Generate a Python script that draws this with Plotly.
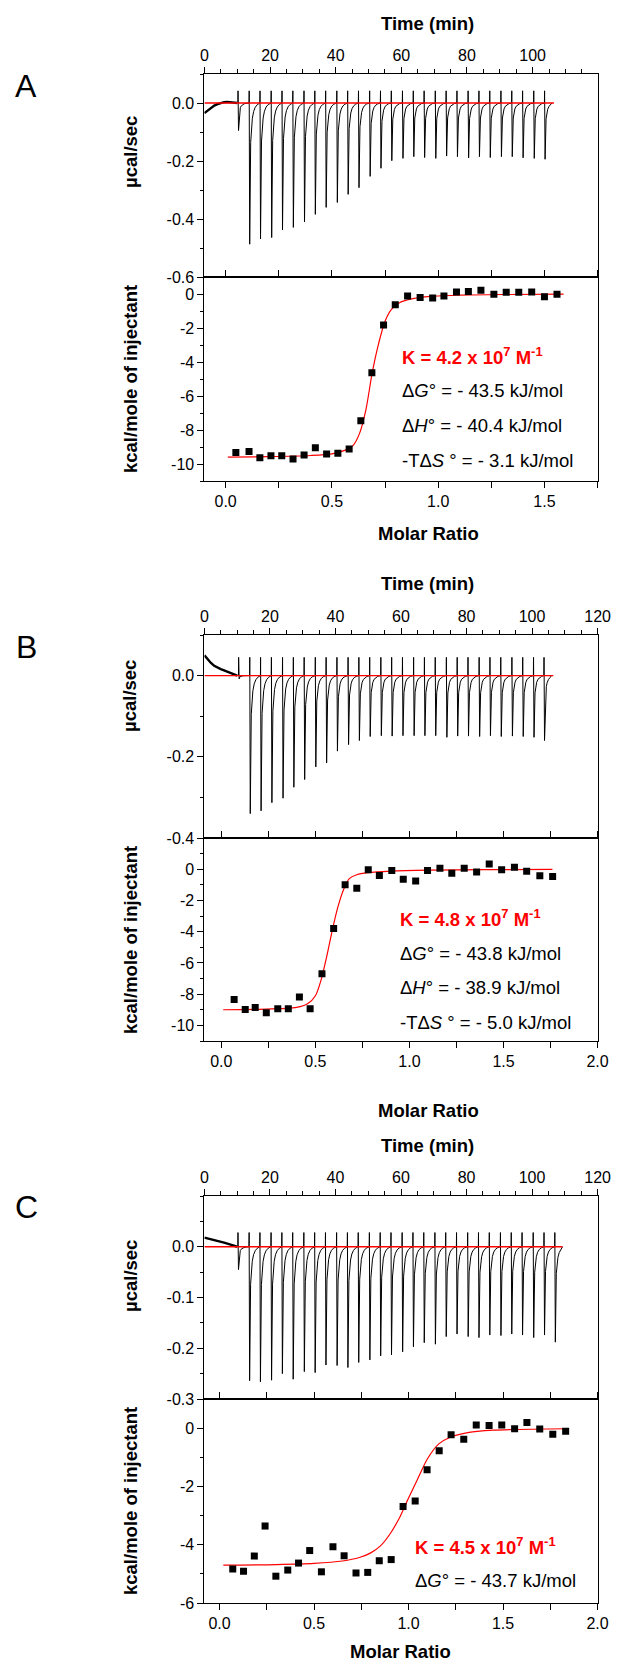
import plotly.graph_objects as go

# ================= DATA =================
# --- Panel A ---
a_pre_t = [0, 1, 2, 3, 4, 5, 6, 7, 8, 9, 10.0]
a_pre_v = [-0.035, -0.026, -0.016, -0.009, -0.004, 0.0, 0.003, 0.004, 0.003, 0.001, 0.0]
a_inj_t = [10.2, 13.6, 16.9, 20.3, 23.6, 26.9, 30.3, 33.6, 36.9, 40.3, 43.6, 46.9, 50.3, 53.6,
           56.9, 60.3, 63.6, 66.9, 70.3, 73.6, 76.9, 80.3, 83.6, 86.9, 90.3, 93.6, 96.9, 100.3, 103.6]
a_depth = [-0.095, -0.487, -0.469, -0.464, -0.438, -0.429, -0.410, -0.384, -0.360, -0.343, -0.315,
           -0.292, -0.253, -0.225, -0.199, -0.191, -0.185, -0.188, -0.191, -0.183, -0.185, -0.189,
           -0.185, -0.188, -0.185, -0.185, -0.189, -0.191, -0.194]
a_spike_up = 0.042
a_end_t = 105.9
a_base_t = [0, 106.5]
a_base_v = [0, 0]
a_ratio = [0.048, 0.110, 0.161, 0.213, 0.264, 0.317, 0.369, 0.422, 0.475, 0.528, 0.581, 0.636, 0.688,
           0.743, 0.798, 0.856, 0.915, 0.974, 1.027, 1.086, 1.142, 1.201, 1.262, 1.320, 1.379, 1.440,
           1.500, 1.559]
a_heat = [-9.33, -9.27, -9.63, -9.51, -9.51, -9.71, -9.47, -9.04, -9.41, -9.37, -9.12, -7.45, -4.63,
          -1.82, -0.63, -0.12, -0.20, -0.24, -0.12, 0.12, 0.14, 0.22, -0.02, 0.10, 0.10, 0.12, -0.16, -0.02]
a_fit_x = [0.01, 0.2, 0.4, 0.5, 0.56, 0.60, 0.63, 0.66, 0.69, 0.72, 0.75, 0.78, 0.82, 0.87, 0.95, 1.1, 1.3, 1.59]
a_fit_y = [-9.60, -9.57, -9.50, -9.40, -9.20, -8.90, -8.20, -6.80, -4.60, -2.90, -1.60, -0.90, -0.50,
           -0.30, -0.15, -0.07, -0.03, -0.01]

# --- Panel B ---
b_pre_t = [0, 1, 2, 3, 4, 5, 6, 7, 8, 9, 10.0]
b_pre_v = [0.050, 0.040, 0.031, 0.024, 0.019, 0.016, 0.013, 0.010, 0.006, 0.003, 0.0]
b_inj_t = [10.4, 13.8, 17.1, 20.4, 23.8, 27.1, 30.4, 33.8, 37.1, 40.4, 43.8, 47.1, 50.4, 53.8,
           57.1, 60.4, 63.8, 67.1, 70.4, 73.8, 77.1, 80.4, 83.8, 87.1, 90.4, 93.8, 97.1, 100.4, 103.6]
b_depth = [-0.008, -0.340, -0.333, -0.313, -0.302, -0.275, -0.256, -0.225, -0.215, -0.186, -0.170,
           -0.160, -0.150, -0.148, -0.149, -0.148, -0.148, -0.148, -0.148, -0.152, -0.149, -0.149,
           -0.150, -0.148, -0.150, -0.149, -0.150, -0.152, -0.160]
b_spike_up = 0.045
b_end_t = 105.9
b_base_t = [0, 106.5]
b_base_v = [0, 0]
b_ratio = [0.068, 0.127, 0.180, 0.239, 0.300, 0.356, 0.415, 0.472, 0.535, 0.597, 0.658, 0.720, 0.781,
           0.840, 0.906, 0.967, 1.033, 1.096, 1.162, 1.225, 1.291, 1.357, 1.424, 1.490, 1.558, 1.623,
           1.693, 1.761]
b_heat = [-8.35, -8.98, -8.86, -9.19, -8.94, -8.94, -8.18, -8.94, -6.69, -3.79, -1.00, -1.21, -0.04,
          -0.40, -0.08, -0.64, -0.76, -0.08, 0.06, -0.25, 0.06, -0.17, 0.34, -0.04, 0.13, -0.13, -0.42, -0.47]
b_fit_x = [0.01, 0.2, 0.4, 0.46, 0.50, 0.53, 0.56, 0.59, 0.62, 0.65, 0.68, 0.72, 0.78, 0.9, 1.1, 1.4, 1.76]
b_fit_y = [-9.00, -8.97, -8.85, -8.60, -8.10, -7.10, -5.60, -3.90, -2.40, -1.30, -0.60, -0.35,
           -0.22, -0.12, -0.06, -0.03, -0.01]

# --- Panel C ---
c_pre_t = [0, 2, 4, 6, 8, 10.0]
c_pre_v = [0.018, 0.015, 0.011, 0.008, 0.004, 0.0]
c_inj_t = [10.2, 13.6, 16.9, 20.3, 23.6, 26.9, 30.3, 33.6, 36.9, 40.3, 43.6, 46.9, 50.3, 53.6,
           56.9, 60.3, 63.6, 66.9, 70.3, 73.6, 76.9, 80.3, 83.6, 86.9, 90.3, 93.6, 96.9, 100.3,
           103.6, 106.9]
c_depth = [-0.045, -0.264, -0.266, -0.263, -0.250, -0.261, -0.246, -0.248, -0.233, -0.234, -0.238,
           -0.228, -0.223, -0.215, -0.213, -0.207, -0.197, -0.189, -0.192, -0.177, -0.172, -0.177,
           -0.179, -0.174, -0.175, -0.172, -0.174, -0.179, -0.174, -0.188]
c_spike_up = 0.028
c_end_t = 109.3
c_base_t = [0, 109.3]
c_base_v = [0, 0]
c_ratio = [0.070, 0.127, 0.184, 0.241, 0.298, 0.361, 0.418, 0.477, 0.539, 0.600, 0.659, 0.722, 0.784,
           0.845, 0.908, 0.971, 1.035, 1.098, 1.162, 1.225, 1.292, 1.358, 1.426, 1.493, 1.561, 1.626,
           1.694, 1.763, 1.831]
c_heat = [-4.83, -4.91, -4.39, -3.36, -5.08, -4.87, -4.63, -4.20, -4.93, -4.07, -4.38, -4.97, -4.95,
          -4.55, -4.51, -2.69, -2.50, -1.43, -0.78, -0.23, -0.38, 0.11, 0.09, 0.11, -0.02, 0.19, -0.03,
          -0.21, -0.11]
c_fit_x = [0.02, 0.3, 0.5, 0.65, 0.74, 0.80, 0.85, 0.90, 0.95, 1.00, 1.05, 1.10, 1.16, 1.22, 1.30, 1.45, 1.83]
c_fit_y = [-4.70, -4.68, -4.64, -4.56, -4.44, -4.28, -4.05, -3.65, -3.10, -2.40, -1.72, -1.05, -0.54,
           -0.31, -0.17, -0.07, -0.02]

# Shape of a single injection peak
# (minutes after the injection, fraction of the peak depth; None = injection artefact spike up)
peak_dt = [0.0, 0.05, 0.20, 0.50, 0.75, 1.00, 1.40, 1.90, 2.50, 3.20]
peak_frac = [0.0, None, 1.0, 0.28, 0.17, 0.11, 0.06, 0.03, 0.012, 0.003]

# Tick labels (y axes)
a_top_ticks = [0.0, -0.2, -0.4, -0.6]
a_top_text = ["0.0", "-0.2", "-0.4", "-0.6"]
b_top_ticks = [0.0, -0.2, -0.4]
b_top_text = ["0.0", "-0.2", "-0.4"]
c_top_ticks = [0.0, -0.1, -0.2, -0.3]
c_top_text = ["0.0", "-0.1", "-0.2", "-0.3"]
ab_bot_ticks = [0, -2, -4, -6, -8, -10]
ab_bot_text = ["0", "-2", "-4", "-6", "-8", "-10"]
c_bot_ticks = [0, -2, -4, -6]
c_bot_text = ["0", "-2", "-4", "-6"]

a_labels = ["<b>K = 4.2 x 10<sup>7</sup> M<sup>-1</sup></b>",
            "Δ<i>G</i>° = - 43.5 kJ/mol",
            "Δ<i>H</i>° = - 40.4 kJ/mol",
            "-TΔ<i>S</i> ° = - 3.1 kJ/mol"]
b_labels = ["<b>K = 4.8 x 10<sup>7</sup> M<sup>-1</sup></b>",
            "Δ<i>G</i>° = - 43.8 kJ/mol",
            "Δ<i>H</i>° = - 38.9 kJ/mol",
            "-TΔ<i>S</i> ° = - 5.0 kJ/mol"]
c_labels = ["<b>K = 4.5 x 10<sup>7</sup> M<sup>-1</sup></b>",
            "Δ<i>G</i>° = - 43.7 kJ/mol"]


def thermogram(inj_t, depth, up, end_t):
    ts, vs = [], []
    for i, t0 in enumerate(inj_t):
        nxt = inj_t[i + 1] if i + 1 < len(inj_t) else end_t
        for dt, fr in zip(peak_dt, peak_frac):
            if t0 + dt >= nxt:
                break
            ts.append(t0 + dt)
            vs.append(up if fr is None else fr * depth[i])
    ts.append(end_t)
    vs.append(0.0)
    return ts, vs


W, H = 624, 1665
FONT = "Liberation Sans, Arial, Helvetica, sans-serif"
X0, X1 = 204.4, 597.6
TICK_FS = 16
TITLE_FS = 18.5
NOTE_FS = 18.5

fig = go.Figure()

panels = [
    dict(key="A", pre=(a_pre_t, a_pre_v), inj=a_inj_t, dep=a_depth, up=a_spike_up, end=a_end_t,
         base=(a_base_t, a_base_v), pts=(a_ratio, a_heat), fit=(a_fit_x, a_fit_y),
         top=(74, 277), bot=(277, 481), yr_top=[-0.6, 0.1], yr_bot=[-11, 1], xr_bot=[-0.1, 1.75],
         xr_top=[0, 119.8],
         ytt=(a_top_ticks, a_top_text), ybt=(ab_bot_ticks, ab_bot_text),
         top_minor=0.1, labels=a_labels, lab_x=400, lab_y=[356, 391, 425, 460],
         time_title_y=23, ratio_title_y=533, ratio_title_x=428, panel_y=86,
         ucal_y=152, kcal_y=379),
    dict(key="B", pre=(b_pre_t, b_pre_v), inj=b_inj_t, dep=b_depth, up=b_spike_up, end=b_end_t,
         base=(b_base_t, b_base_v), pts=(b_ratio, b_heat), fit=(b_fit_x, b_fit_y),
         top=(635, 838), bot=(838, 1041), yr_top=[-0.4, 0.1], yr_bot=[-11, 2], xr_bot=[-0.09, 2.0],
         xr_top=[0, 120],
         ytt=(b_top_ticks, b_top_text), ybt=(ab_bot_ticks, ab_bot_text),
         top_minor=0.1, labels=b_labels, lab_x=398, lab_y=[918, 953, 987, 1022],
         time_title_y=583, ratio_title_y=1110, ratio_title_x=428, panel_y=647,
         ucal_y=696, kcal_y=940),
    dict(key="C", pre=(c_pre_t, c_pre_v), inj=c_inj_t, dep=c_depth, up=c_spike_up, end=c_end_t,
         base=(c_base_t, c_base_v), pts=(c_ratio, c_heat), fit=(c_fit_x, c_fit_y),
         top=(1196, 1399), bot=(1399, 1603), yr_top=[-0.3, 0.1], yr_bot=[-6, 1], xr_bot=[-0.08, 2.0],
         xr_top=[0, 120],
         ytt=(c_top_ticks, c_top_text), ybt=(c_bot_ticks, c_bot_text),
         top_minor=0.05, labels=c_labels, lab_x=413, lab_y=[1546, 1580],
         time_title_y=1145, ratio_title_y=1651, ratio_title_x=400, panel_y=1207,
         ucal_y=1276, kcal_y=1501),
]

axis_common = dict(showline=True, linecolor="black", linewidth=1, mirror=True, ticks="outside",
                   tickcolor="black", ticklen=6, tickwidth=1, showgrid=False, zeroline=False,
                   tickfont=dict(family=FONT, size=TICK_FS, color="black"), automargin=False)

annotations = []
layout_axes = {}


def py(p):
    return 1 - p / H


for i, p in enumerate(panels):
    nt = 2 * i + 1
    nb = 2 * i + 2
    xt = "x" if nt == 1 else f"x{nt}"
    yt = "y" if nt == 1 else f"y{nt}"
    xb, yb = f"x{nb}", f"y{nb}"
    xt_key = "xaxis" if nt == 1 else f"xaxis{nt}"
    yt_key = "yaxis" if nt == 1 else f"yaxis{nt}"

    # noisy pre-injection baseline (drawn thicker)
    fig.add_trace(go.Scatter(x=p["pre"][0], y=p["pre"][1], mode="lines",
                             line=dict(color="black", width=2.4),
                             xaxis=xt, yaxis=yt, showlegend=False, hoverinfo="skip"))
    tt, tv = thermogram(p["inj"], p["dep"], p["up"], p["end"])
    fig.add_trace(go.Scatter(x=tt, y=tv, mode="lines", line=dict(color="black", width=1),
                             xaxis=xt, yaxis=yt, showlegend=False, hoverinfo="skip"))
    fig.add_trace(go.Scatter(x=p["base"][0], y=p["base"][1], mode="lines",
                             line=dict(color="#ff0000", width=1.3),
                             xaxis=xt, yaxis=yt, showlegend=False, hoverinfo="skip"))
    fig.add_trace(go.Scatter(x=p["fit"][0], y=p["fit"][1], mode="lines",
                             line=dict(color="#ff0000", width=1.2, shape="spline", smoothing=0.8),
                             xaxis=xb, yaxis=yb, showlegend=False, hoverinfo="skip"))
    fig.add_trace(go.Scatter(x=p["pts"][0], y=p["pts"][1], mode="markers",
                             marker=dict(symbol="square", size=7, color="black"),
                             xaxis=xb, yaxis=yb, showlegend=False, hoverinfo="skip"))

    layout_axes[xt_key] = dict(axis_common, domain=[X0 / W, X1 / W], anchor=yt, side="top",
                               range=p["xr_top"], tickmode="linear", tick0=0, dtick=20,
                               minor=dict(tickmode="linear", tick0=0, dtick=5, ticklen=4,
                                          ticks="outside", tickcolor="black"))
    layout_axes[yt_key] = dict(axis_common, domain=[py(p["top"][1]), py(p["top"][0])], anchor=xt,
                               range=p["yr_top"], tickmode="array", tickvals=p["ytt"][0],
                               ticktext=p["ytt"][1],
                               minor=dict(tickmode="linear", tick0=0, dtick=p["top_minor"], ticklen=3,
                                          ticks="outside", tickcolor="black"))
    layout_axes[f"xaxis{nb}"] = dict(axis_common, domain=[X0 / W, X1 / W], anchor=yb,
                                     range=p["xr_bot"], tickmode="linear", tick0=0, dtick=0.5,
                                     tickformat=".1f", mirror="allticks",
                                     minor=dict(tickmode="linear", tick0=0, dtick=0.25, ticklen=6,
                                                ticks="outside", tickcolor="black"))
    layout_axes[f"yaxis{nb}"] = dict(axis_common, domain=[py(p["bot"][1]), py(p["bot"][0])], anchor=xb,
                                     range=p["yr_bot"], tickmode="array", tickvals=p["ybt"][0],
                                     ticktext=p["ybt"][1],
                                     minor=dict(tickmode="linear", tick0=0, dtick=1, ticklen=3,
                                                ticks="outside", tickcolor="black"))

    # texts
    annotations.append(dict(text=p["key"], x=26 / W, y=py(p["panel_y"]), xref="paper", yref="paper",
                            showarrow=False, xanchor="center", yanchor="middle",
                            font=dict(family=FONT, size=32, color="black")))
    annotations.append(dict(text="<b>Time (min)</b>", x=427 / W, y=py(p["time_title_y"]),
                            xref="paper", yref="paper", showarrow=False, xanchor="center",
                            yanchor="middle", font=dict(family=FONT, size=TITLE_FS, color="black")))
    annotations.append(dict(text="<b>Molar Ratio</b>", x=p["ratio_title_x"] / W, y=py(p["ratio_title_y"]),
                            xref="paper", yref="paper", showarrow=False, xanchor="center",
                            yanchor="middle", font=dict(family=FONT, size=TITLE_FS, color="black")))
    annotations.append(dict(text="<b>µcal/sec</b>", x=130 / W, y=py(p["ucal_y"]), textangle=-90,
                            xref="paper", yref="paper", showarrow=False, xanchor="center",
                            yanchor="middle", font=dict(family=FONT, size=TITLE_FS, color="black")))
    annotations.append(dict(text="<b>kcal/mole of injectant</b>", x=130 / W, y=py(p["kcal_y"]),
                            textangle=-90, xref="paper", yref="paper", showarrow=False,
                            xanchor="center", yanchor="middle",
                            font=dict(family=FONT, size=TITLE_FS, color="black")))
    for j, (lab, ly) in enumerate(zip(p["labels"], p["lab_y"])):
        annotations.append(dict(text=lab, x=p["lab_x"] / W, y=py(ly), xref="paper", yref="paper",
                                showarrow=False, xanchor="left", yanchor="middle",
                                font=dict(family=FONT, size=NOTE_FS,
                                          color="#ff0000" if j == 0 else "black")))

fig.update_layout(width=W, height=H, autosize=False, template="none",
                  margin=dict(l=0, r=0, t=0, b=0), plot_bgcolor="white", paper_bgcolor="white",
                  showlegend=False, annotations=annotations, **layout_axes)

fig.write_html("out.html", config={"displayModeBar": False},
               post_script="document.body.style.margin='0';document.body.style.overflow='hidden';")
